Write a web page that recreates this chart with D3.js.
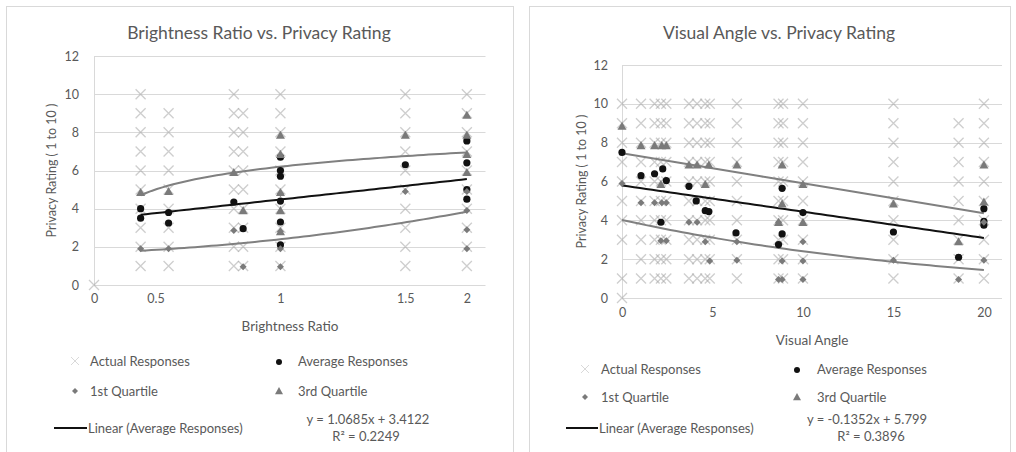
<!DOCTYPE html>
<html><head><meta charset="utf-8">
<script src="https://cdn.jsdelivr.net/npm/d3@7"></script>
<style>
html,body{margin:0;padding:0;background:#fff;}
svg{display:block;font-family:Lato,"Liberation Sans",sans-serif;}
</style></head>
<body><svg id="c" width="1016" height="452"></svg>
<script>
// ---------------- DATA ----------------
// Left chart: Brightness Ratio vs Privacy Rating
const brightTitle = "Brightness Ratio vs. Privacy Rating";
const brightXLabel = "Brightness Ratio";
const brightTickLabels = ["0", "0.5", "1", "1.5", "2"];
const brightTickAt = [0, 0.33, 1, 1.67, 2];
const brightCols = [0, 0.25, 0.4, 0.75, 0.8, 1, 1.67, 2];
const brightActual = [
  [0],
  [1,2,3,4,5,6,7,8,9,10],
  [1,2,3,4,5,6,7,8,9],
  [1,2,3,4,5,6,7,8,9,10],
  [1,2,3,4,5,6,7,8,9],
  [1,2,3,4,5,6,7,8,9,10],
  [1,2,3,4,5,6,7,8,9,10],
  [1,2,3,4,5,6,7,8,9,10]
];
const brightAvg = [[0.25,4.0],[0.25,3.5],[0.4,3.8],[0.4,3.25],[0.75,4.35],[0.8,2.95],
  [1,6.7],[1,6.0],[1,5.7],[1,4.4],[1,3.3],[1,2.1],[1.67,6.3],[2,7.55],[2,6.4],[2,5.0],[2,4.5]];
const brightQ1 = [[0.25,1.9],[0.4,1.9],[0.75,2.85],[0.8,0.95],[1,4.8],[1,2.8],[1,1.9],[1,0.95],
  [1.67,4.9],[2,4.9],[2,3.9],[2,2.9],[2,1.9]];
const brightQ3 = [[0.25,4.85],[0.4,4.9],[0.75,5.9],[0.8,3.9],[1,7.85],[1,6.85],[1,4.85],[1,3.9],[1,2.8],
  [1.67,7.85],[2,8.9],[2,7.85],[2,6.85],[2,5.9]];
const brightAvgTrend = [1.0685, 3.4122];          // slope, intercept
const brightQ3Trend = [6.2, 1.08];                 // a + b ln x
const brightQ1Trend = [1.69, 0.343, 0.366];        // a + b x + c x^2
const brightEq = ["y = 1.0685x + 3.4122", "R\u00B2 = 0.2249"];

// Right chart: Visual Angle vs Privacy Rating
const angleTitle = "Visual Angle vs. Privacy Rating";
const angleXLabel = "Visual Angle";
const angleTicks = [0, 5, 10, 15, 20];
const angleCols = [0, 1.05, 1.8, 2.15, 2.45, 3.7, 4.15, 4.6, 4.85, 6.35, 8.65, 8.9, 10, 15, 18.6, 20];
const angleActual = [
  [0,1,3,4,5,6,7,8,9,10],
  [1,2,3,4,5,6,7,8,9,10],
  [1,2,3,4,5,6,7,8,9,10],
  [1,2,3,4,5,6,7,8,9,10],
  [1,2,3,4,5,6,7,8,9,10],
  [1,2,3,4,5,6,7,8,9,10],
  [1,2,3,4,5,6,7,8,9,10],
  [1,2,3,4,5,6,7,8,9,10],
  [1,2,3,4,5,6,7,8,9,10],
  [1,2,3,4,5,6,7,8,9,10],
  [1,2,3,4,5,6,7,8,9,10],
  [1,2,3,4,5,6,7,8,9,10],
  [1,2,3,4,5,6,7,8,9,10],
  [1,2,3,4,5,6,7,8,9,10],
  [1,2,3,4,5,6,7,8,9],
  [1,2,3,4,5,6,7,8,9,10]
];
const angleAvg = [[0,7.5],[1.05,6.3],[1.8,6.4],[2.25,6.65],[2.45,6.05],[2.15,3.9],[3.7,5.75],[4.1,5.0],
  [4.6,4.5],[4.8,4.45],[6.3,3.35],[8.65,2.75],[8.85,5.65],[8.85,3.3],[10,4.4],[15,3.4],[18.6,2.1],
  [20,4.6],[20,3.95],[20,3.75]];
const angleQ3 = [[0,8.85],[1.05,7.85],[1.8,7.85],[2.2,7.85],[2.45,7.85],[2.15,5.85],[3.7,6.85],[4.15,6.85],
  [4.8,6.85],[4.6,5.85],[6.35,6.85],[8.85,6.85],[8.85,4.85],[8.65,3.9],[10,5.85],[10,3.9],[15,4.85],
  [18.6,2.9],[20,6.85],[20,4.95]];
const angleQ1 = [[0,5.9],[1.05,4.9],[1.8,4.9],[2.2,4.9],[2.45,4.9],[2.15,2.95],[2.45,2.95],[3.7,3.9],
  [4.15,3.9],[4.6,2.9],[4.85,1.9],[6.35,1.95],[6.35,2.9],[8.85,1.9],[8.85,0.95],[8.65,0.95],[8.65,3.9],
  [10,2.9],[10,1.9],[10,0.95],[15,1.95],[18.6,0.95],[20,1.95],[20,3.9]];
const angleAvgTrend = [-0.1352, 5.799];            // slope, intercept
const angleQ3Trend = [-0.1545, 7.45];              // slope, intercept
const angleQ1Trend = [4.02, -0.0513];              // a * exp(b x)
const angleEq = ["y = -0.1352x + 5.799", "R\u00B2 = 0.3896"];

const yTicks = [0, 2, 4, 6, 8, 10, 12];
const yTitle = "Privacy Rating ( 1 to 10 )";
const legendLabels = ["Actual Responses", "Average Responses", "1st Quartile", "3rd Quartile", "Linear (Average Responses)"];

// ---------------- DRAW ----------------
const svg = d3.select("#c");
const TXT = "#595959", GRID = "#d9d9d9", MID = "#808080";

function trendPts(fn, x0, x1) {
  return d3.range(0, 61).map(i => { const x = x0 + (x1 - x0) * i / 60; return [x, fn(x)]; });
}

function drawChart(o) {
  const g = svg.append("g");
  g.append("rect").attr("x", o.panel[0] + 0.5).attr("y", 6.5).attr("width", o.panel[1] - o.panel[0])
    .attr("height", 470).attr("fill", "#fff").attr("stroke", GRID);
  const x = d3.scaleLinear().domain(o.xDomain).range(o.xRange);
  const y = d3.scaleLinear().domain([0, 12]).range(o.yRange);

  g.append("text").attr("x", o.titleX).attr("y", 39).attr("text-anchor", "middle")
    .attr("font-size", 17.5).attr("fill", TXT).text(o.title);

  g.append("g").selectAll("line").data(yTicks).join("line")
    .attr("x1", o.xRange[0]).attr("x2", o.xRange[1])
    .attr("y1", d => Math.round(y(d)) + 0.5).attr("y2", d => Math.round(y(d)) + 0.5)
    .attr("stroke", GRID).attr("stroke-width", 1);
  g.append("line").attr("x1", o.xRange[0] + 0.5).attr("x2", o.xRange[0] + 0.5)
    .attr("y1", o.yRange[1]).attr("y2", o.yRange[0]).attr("stroke", GRID);

  const ya = d3.axisLeft(y).tickValues(yTicks).tickSize(0).tickPadding(o.yPad).tickFormat(d3.format("d"));
  const yg = g.append("g").attr("transform", `translate(${o.xRange[0]},0)`).call(ya);
  yg.select(".domain").remove();
  yg.selectAll("text").attr("font-size", 12.5).attr("fill", TXT).attr("font-family", "Lato");

  const xa = d3.axisBottom(x).tickValues(o.xTickAt).tickSize(0).tickPadding(o.xPad)
    .tickFormat((d, i) => o.xTickLabels[i]);
  const xg = g.append("g").attr("transform", `translate(0,${o.yRange[0]})`).call(xa);
  xg.select(".domain").remove();
  xg.selectAll("text").attr("font-size", 12.5).attr("fill", TXT).attr("font-family", "Lato");

  g.append("text").attr("x", o.xTitleX).attr("y", o.xTitleY).attr("text-anchor", "middle")
    .attr("font-size", 13.5).attr("fill", TXT).text(o.xLabel);
  g.append("text").attr("transform", `translate(${o.yTitleX},${(o.yRange[0] + o.yRange[1]) / 2}) rotate(-90)`)
    .attr("text-anchor", "middle").attr("font-size", 12.5).attr("fill", TXT).text(yTitle);

  const act = [];
  o.cols.forEach((c, i) => o.actual[i].forEach(v => act.push([c, v])));
  const xs = g.append("g");
  act.forEach(p => {
    const cx = x(p[0]), cy = y(p[1]), s = 5;
    xs.append("path").attr("d", `M${cx - s},${cy - s}L${cx + s},${cy + s}M${cx - s},${cy + s}L${cx + s},${cy - s}`)
      .attr("stroke", "#a6a6a6").attr("stroke-opacity", 0.55).attr("stroke-width", 1.3).attr("fill", "none");
  });

  const line = d3.line().x(d => x(d[0])).y(d => y(d[1]));
  g.append("path").attr("d", line(trendPts(o.q3Fn, o.trendRange[0], o.trendRange[1])))
    .attr("fill", "none").attr("stroke", MID).attr("stroke-width", 2);
  g.append("path").attr("d", line(trendPts(o.q1Fn, o.trendRange[0], o.trendRange[1])))
    .attr("fill", "none").attr("stroke", MID).attr("stroke-width", 2);
  g.append("path").attr("d", line(trendPts(xx => o.avgTrend[0] * xx + o.avgTrend[1], o.trendRange[0], o.trendRange[1])))
    .attr("fill", "none").attr("stroke", "#111").attr("stroke-width", 2);

  g.append("g").selectAll("circle").data(o.avg).join("circle")
    .attr("cx", d => x(d[0])).attr("cy", d => y(d[1])).attr("r", 3.6).attr("fill", "#111");
  g.append("g").selectAll("path").data(o.q1).join("path")
    .attr("d", d => { const cx = x(d[0]), cy = y(d[1]), s = 3.5; return `M${cx},${cy - s}L${cx + s},${cy}L${cx},${cy + s}L${cx - s},${cy}Z`; })
    .attr("fill", "#7a7a7a");
  g.append("g").selectAll("path").data(o.q3).join("path")
    .attr("d", d => { const cx = x(d[0]), cy = y(d[1]), s = 4.5; return `M${cx},${cy - s}L${cx + s},${cy + s * 0.8}L${cx - s},${cy + s * 0.8}Z`; })
    .attr("fill", "#7a7a7a");

  const L = o.leg;
  const lg = g.append("g").attr("font-size", 13).attr("fill", TXT);
  {
    const cx = L.c1, cy = L.r1, s = 4;
    lg.append("path").attr("d", `M${cx - s},${cy - s}L${cx + s},${cy + s}M${cx - s},${cy + s}L${cx + s},${cy - s}`)
      .attr("stroke", "#d9d9d9").attr("stroke-width", 1);
  }
  lg.append("text").attr("x", L.t1).attr("y", L.r1 + 4.5).text(legendLabels[0]);
  lg.append("circle").attr("cx", L.c2).attr("cy", L.r1 + 1).attr("r", 3).attr("fill", "#111");
  lg.append("text").attr("x", L.t2).attr("y", L.r1 + 4.5).text(legendLabels[1]);
  {
    const cx = L.c1, cy = L.r2, s = 3;
    lg.append("path").attr("d", `M${cx},${cy - s}L${cx + s},${cy}L${cx},${cy + s}L${cx - s},${cy}Z`).attr("fill", "#7a7a7a");
    const cx2 = L.c2, s2 = 4;
    lg.append("path").attr("d", `M${cx2},${cy - s2}L${cx2 + s2},${cy + s2 * 0.8}L${cx2 - s2},${cy + s2 * 0.8}Z`).attr("fill", "#7a7a7a");
  }
  lg.append("text").attr("x", L.t1).attr("y", L.r2 + 4.5).text(legendLabels[2]);
  lg.append("text").attr("x", L.t2).attr("y", L.r2 + 4.5).text(legendLabels[3]);
  lg.append("line").attr("x1", L.lx0).attr("x2", L.lx1).attr("y1", L.r3).attr("y2", L.r3)
    .attr("stroke", "#111").attr("stroke-width", 2);
  lg.append("text").attr("x", L.lx1 + 1).attr("y", L.r3 + 4.5).text(legendLabels[4]);
  lg.append("text").attr("x", L.eqX).attr("y", L.r3 - 4).attr("text-anchor", "middle").text(o.eq[0]);
  lg.append("text").attr("x", L.eqX2).attr("y", L.r3 + 13).attr("text-anchor", "middle").text(o.eq[1]);
}

drawChart({
  panel: [6, 513], title: brightTitle, titleX: 259, xLabel: brightXLabel, xTitleX: 290, xTitleY: 331, yTitleX: 56,
  xDomain: [0, 2.1], xRange: [94, 485.5], yRange: [285, 56], yPad: 15, xPad: 9,
  xTickAt: brightTickAt, xTickLabels: brightTickLabels,
  cols: brightCols, actual: brightActual, avg: brightAvg, q1: brightQ1, q3: brightQ3,
  avgTrend: brightAvgTrend,
  q3Fn: xx => brightQ3Trend[0] + brightQ3Trend[1] * Math.log(xx),
  q1Fn: xx => brightQ1Trend[0] + brightQ1Trend[1] * xx + brightQ1Trend[2] * xx * xx,
  trendRange: [0.25, 2], eq: brightEq,
  leg: { c1: 75, t1: 90, c2: 279, t2: 298, r1: 361, r2: 391, r3: 428, lx0: 54, lx1: 87, eqX: 368, eqX2: 366 }
});

drawChart({
  panel: [529, 1010], title: angleTitle, titleX: 779, xLabel: angleXLabel, xTitleX: 812, xTitleY: 345, yTitleX: 586,
  xDomain: [0, 21], xRange: [622, 1002], yRange: [298, 65], yPad: 14, xPad: 10,
  xTickAt: angleTicks, xTickLabels: angleTicks.map(String),
  cols: angleCols, actual: angleActual, avg: angleAvg, q1: angleQ1, q3: angleQ3,
  avgTrend: angleAvgTrend,
  q3Fn: xx => angleQ3Trend[1] + angleQ3Trend[0] * xx,
  q1Fn: xx => angleQ1Trend[0] * Math.exp(angleQ1Trend[1] * xx),
  trendRange: [0, 20], eq: angleEq,
  leg: { c1: 585, t1: 601, c2: 797, t2: 817, r1: 369, r2: 397, r3: 428, lx0: 566, lx1: 598, eqX: 867, eqX2: 871 }
});
</script></body></html>
